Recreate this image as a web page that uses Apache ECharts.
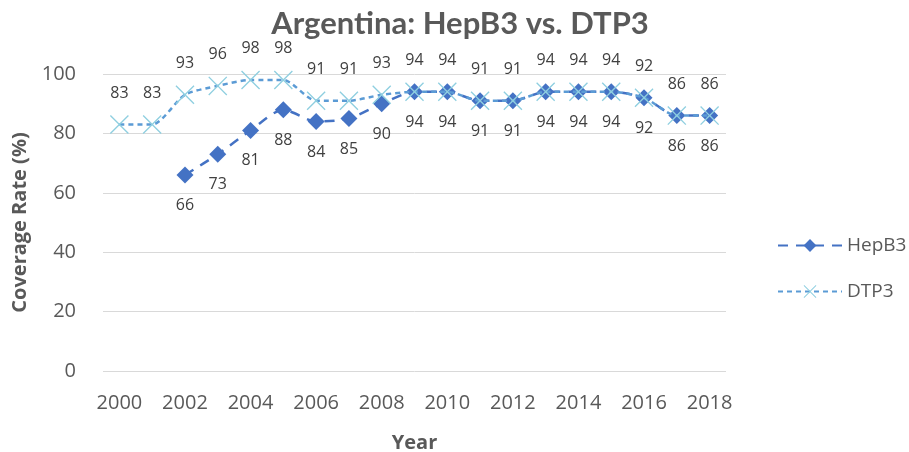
<!DOCTYPE html>
<html><head><meta charset="utf-8">
<script src="https://cdn.jsdelivr.net/npm/echarts@6/dist/echarts.min.js"></script>
<style>html,body{margin:0;padding:0;background:#fff}#c{width:909px;height:452px}</style>
</head><body><div id="c"></div>
<script>
const years = ['2000','2001','2002','2003','2004','2005','2006','2007','2008','2009','2010','2011','2012','2013','2014','2015','2016','2017','2018'];
const hepB3 = [null,null,66,73,81,88,84,85,90,94,94,91,91,94,94,94,92,86,86];
const dtp3 = [83,83,93,96,98,98,91,91,93,94,94,91,91,94,94,94,92,86,86];
const yTicks = [0,20,40,60,80,100];

const font = '"Open Sans", sans-serif';
const crossPath = 'path://M0,1 L1,0 L10,9 L19,0 L20,1 L11,10 L20,19 L19,20 L10,11 L1,20 L0,19 L9,10 Z';
const chart = echarts.init(document.getElementById('c'));
chart.setOption({
  animation: false,
  title: {text: 'Argentina: HepB3 vs. DTP3', left: 455, top: 3, textAlign: 'center',
    textStyle: {fontFamily: 'Lato, sans-serif', fontSize: 31, fontWeight: 'bold', color: '#595959'}},
  grid: {left: 103, right: 183, top: 74, bottom: 81, containLabel: false, outerBoundsMode: 'none'},
  legend: {orient: 'vertical', left: 772, top: 227, itemWidth: 64, itemHeight: 16, itemGap: 19,
    textStyle: {fontFamily: font, fontSize: 19, color: '#595959', lineHeight: 27},
    data: ['HepB3', 'DTP3']},
  xAxis: {type: 'category', data: years, boundaryGap: true,
    name: 'Year', nameLocation: 'middle', nameGap: 62,
    nameTextStyle: {fontFamily: font, fontSize: 20, fontWeight: 'bold', color: '#595959'},
    axisLine: {show: false}, axisTick: {show: false},
    axisLabel: {interval: 1, fontFamily: font, fontSize: 20, color: '#595959', margin: 22}},
  yAxis: {type: 'value', min: yTicks[0], max: yTicks[yTicks.length-1], interval: 20,
    name: 'Coverage Rate (%)', nameLocation: 'middle', nameGap: 69, nameRotate: 90,
    nameTextStyle: {fontFamily: font, fontSize: 20, fontWeight: 'bold', color: '#595959'},
    axisLabel: {fontFamily: font, fontSize: 20, color: '#595959', margin: 27},
    splitLine: {lineStyle: {color: '#d9d9d9', width: 1}}},
  series: [
    {name: 'HepB3', type: 'line', data: hepB3, smooth: 0.25, connectNulls: false,
      symbol: 'diamond', symbolSize: 17, z: 2,
      itemStyle: {color: '#4472C4'},
      lineStyle: {color: '#4472C4', width: 2.5, type: [10, 8]},
      label: {show: true, position: 'bottom', distance: 14, fontFamily: font, fontSize: 16, color: '#404040'}},
    {name: 'DTP3', type: 'line', data: dtp3, smooth: 0.25,
      symbol: crossPath, symbolSize: 19, z: 3,
      itemStyle: {color: '#8FCFE0'},
      lineStyle: {color: '#5B9BD5', width: 2.5, type: [5, 4]},
      label: {show: true, position: 'top', distance: 14, fontFamily: font, fontSize: 16, color: '#404040'}}
  ]
});
</script></body></html>
